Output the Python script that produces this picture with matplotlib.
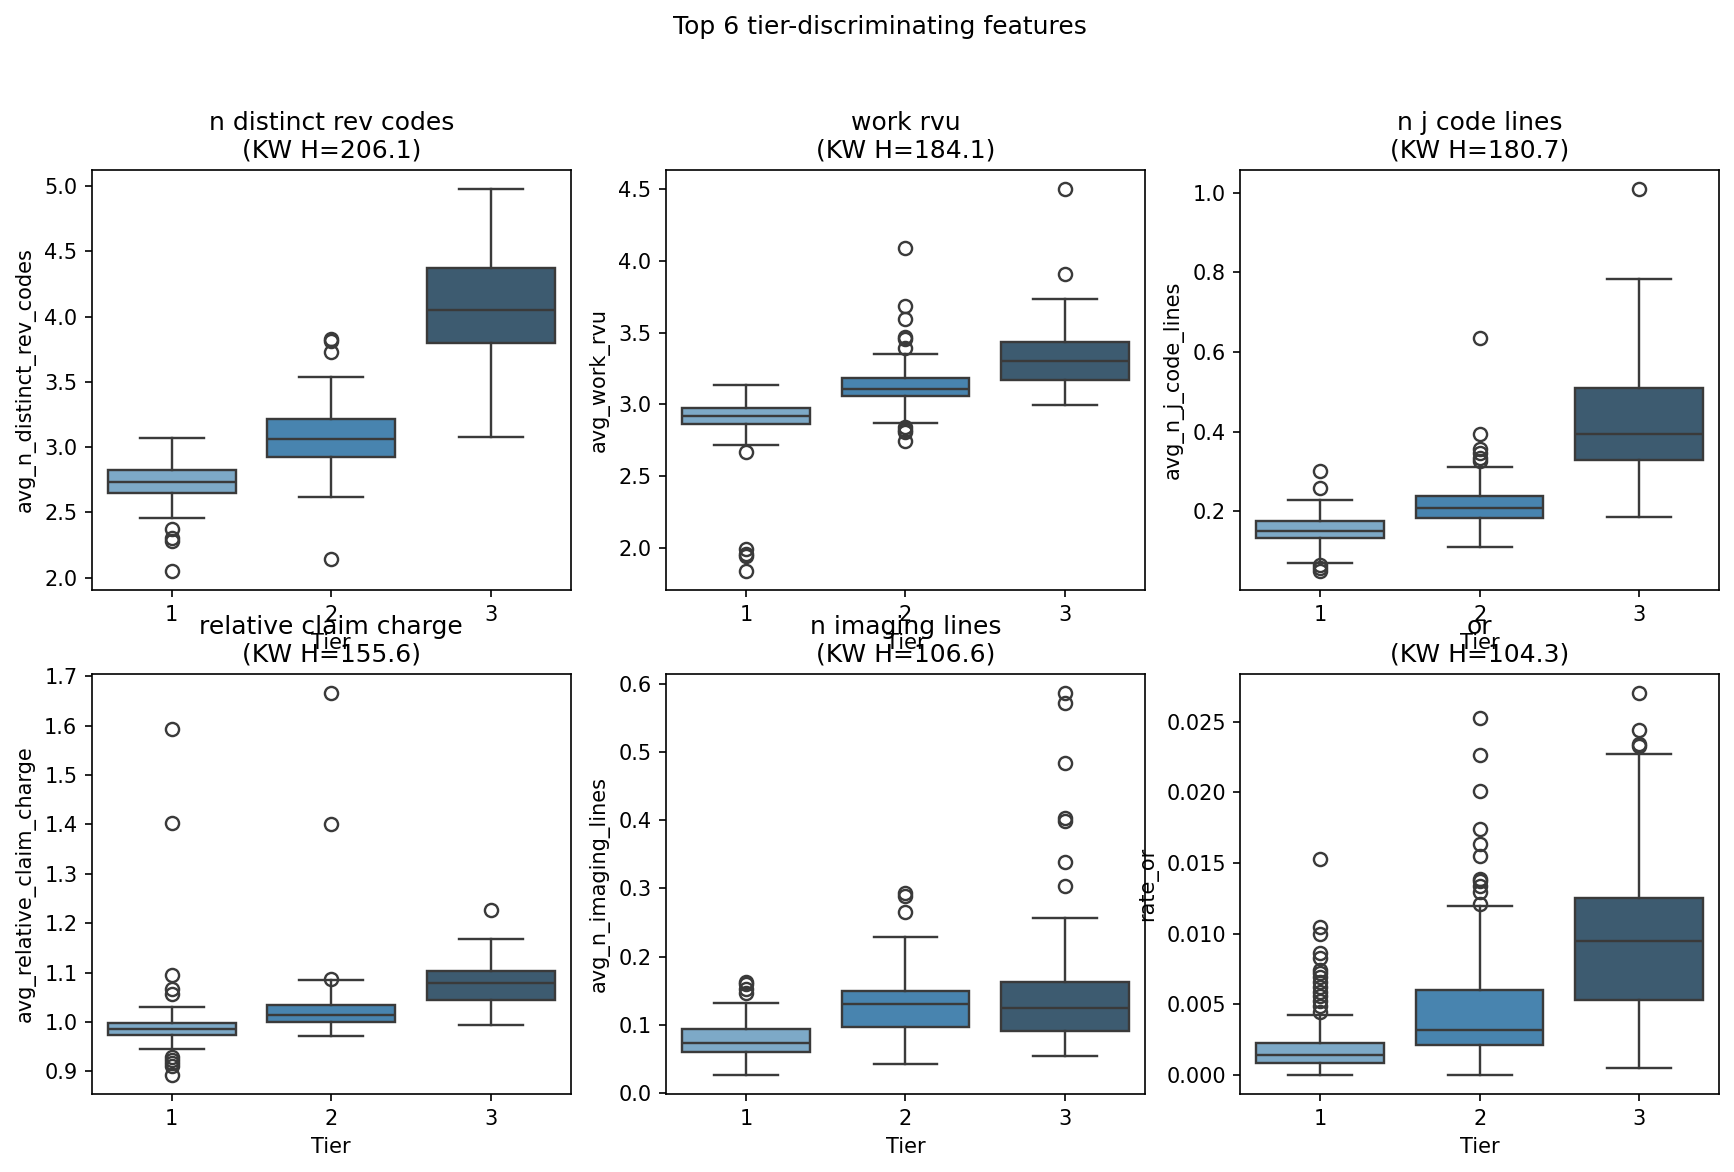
import matplotlib
matplotlib.use("Agg")
import matplotlib.pyplot as plt
import seaborn as sns

# ---------------- data ----------------
tiers = ["1", "2", "3"]
features = ["n_distinct_rev_codes", "work_rvu", "n_j_code_lines",
            "relative_claim_charge", "n_imaging_lines", "or"]
ylabels = ["avg_n_distinct_rev_codes", "avg_work_rvu", "avg_n_j_code_lines",
           "avg_relative_claim_charge", "avg_n_imaging_lines", "rate_or"]
kw_h = [206.1, 184.1, 180.7, 155.6, 106.6, 104.3]

# box stats per tier: [whisker low, Q1, median, Q3, whisker high]
rev_codes_box = [[2.454, 2.651, 2.735, 2.821, 3.066],
                 [2.615, 2.926, 3.064, 3.217, 3.538],
                 [3.079, 3.798, 4.051, 4.370, 4.977]]
rev_codes_fliers = [[2.375, 2.300, 2.282, 2.051],
                    [3.830, 3.810, 3.727, 2.143],
                    []]

work_rvu_box = [[2.720, 2.867, 2.918, 2.978, 3.138],
                [2.874, 3.057, 3.106, 3.182, 3.354],
                [2.999, 3.173, 3.300, 3.437, 3.737]]
work_rvu_fliers = [[2.669, 1.994, 1.962, 1.945, 1.841],
                   [4.089, 3.688, 3.595, 3.470, 3.456, 3.393, 2.840, 2.820, 2.810, 2.744],
                   [4.500, 3.908]]

j_code_box = [[0.0705, 0.1335, 0.151, 0.176, 0.2275],
              [0.109, 0.182, 0.2074, 0.237, 0.310],
              [0.186, 0.328, 0.394, 0.509, 0.783]]
j_code_fliers = [[0.300, 0.259, 0.066, 0.058, 0.050],
                 [0.634, 0.395, 0.357, 0.345, 0.333, 0.325],
                 [1.009]]

claim_charge_box = [[0.945, 0.973, 0.986, 0.999, 1.030],
                    [0.972, 1.000, 1.014, 1.034, 1.085],
                    [0.994, 1.045, 1.079, 1.103, 1.168]]
claim_charge_fliers = [[1.593, 1.403, 1.096, 1.067, 1.056, 0.930, 0.924, 0.918, 0.912, 0.893],
                       [1.666, 1.401, 1.087],
                       [1.227]]

imaging_box = [[0.0266, 0.060, 0.0736, 0.094, 0.132],
               [0.0426, 0.097, 0.131, 0.149, 0.229],
               [0.055, 0.0912, 0.124, 0.162, 0.2567]]
imaging_fliers = [[0.163, 0.160, 0.152, 0.147],
                  [0.293, 0.289, 0.265],
                  [0.586, 0.571, 0.483, 0.403, 0.399, 0.339, 0.303]]

rate_or_box = [[0.0, 0.00085, 0.00142, 0.00225, 0.00426],
               [0.0, 0.00212, 0.0032, 0.00604, 0.01198],
               [0.00052, 0.00532, 0.00948, 0.01253, 0.02273]]
rate_or_fliers = [[0.01526, 0.01046, 0.0100, 0.00865, 0.00824, 0.00744, 0.00723,
                   0.0069, 0.00656, 0.00625, 0.00586, 0.0056, 0.0052, 0.0049, 0.00444],
                  [0.02523, 0.02262, 0.02007, 0.01738, 0.01632, 0.01547, 0.01387,
                   0.01369, 0.01335, 0.01296, 0.01211],
                  [0.02701, 0.02441, 0.02342, 0.0233]]

all_boxes = [rev_codes_box, work_rvu_box, j_code_box,
             claim_charge_box, imaging_box, rate_or_box]
all_fliers = [rev_codes_fliers, work_rvu_fliers, j_code_fliers,
              claim_charge_fliers, imaging_fliers, rate_or_fliers]

# ---------------- style ----------------
base_pal = sns.color_palette("Blues_d", len(tiers))
pal = [sns.desaturate(c, 0.75) for c in base_pal]
try:
    from seaborn.external import husl
    lum = min(husl.rgb_to_husl(*c)[2] for c in base_pal) * 0.6 / 100
    line_color = (lum, lum, lum)
except Exception:
    line_color = "#393939"
lw = 1.15

W, H = 1734, 1172
fig = plt.figure(figsize=(W / 150, H / 150), dpi=150)

ax_w, ax_h = 478.5, 420.0
col_left = [92.0, 666.2, 1240.4]
row_top = [170.0, 674.0]

for i, feat in enumerate(features):
    r, c = divmod(i, 3)
    ax = fig.add_axes([col_left[c] / W, (H - row_top[r] - ax_h) / H, ax_w / W, ax_h / H])
    stats = []
    for t, b, fl in zip(tiers, all_boxes[i], all_fliers[i]):
        stats.append(dict(label=t, whislo=b[0], q1=b[1], med=b[2], q3=b[3],
                          whishi=b[4], fliers=fl))
    art = ax.bxp(stats, positions=list(range(len(tiers))), widths=0.8,
                 patch_artist=True, capwidths=0.4,
                 boxprops=dict(edgecolor=line_color, linewidth=lw),
                 whiskerprops=dict(color=line_color, linewidth=lw),
                 capprops=dict(color=line_color, linewidth=lw),
                 medianprops=dict(color=line_color, linewidth=lw),
                 flierprops=dict(marker="o", markersize=6.3, markerfacecolor="none",
                                 markeredgecolor=line_color, markeredgewidth=lw,
                                 linestyle="none"))
    for patch, col in zip(art["boxes"], pal):
        patch.set_facecolor(col)
    ax.set_xlim(-0.5, len(tiers) - 0.5)
    ax.set_xlabel("Tier")
    ax.set_ylabel(ylabels[i])
    ax.set_title(f"{feat.replace('_', ' ')}\n(KW H={kw_h[i]:.1f})", fontsize=12)

fig.text(879.5 / W, 1 - 15 / H, "Top 6 tier-discriminating features",
         ha="center", va="top", fontsize=12)

fig.savefig("out.png", dpi=150)
